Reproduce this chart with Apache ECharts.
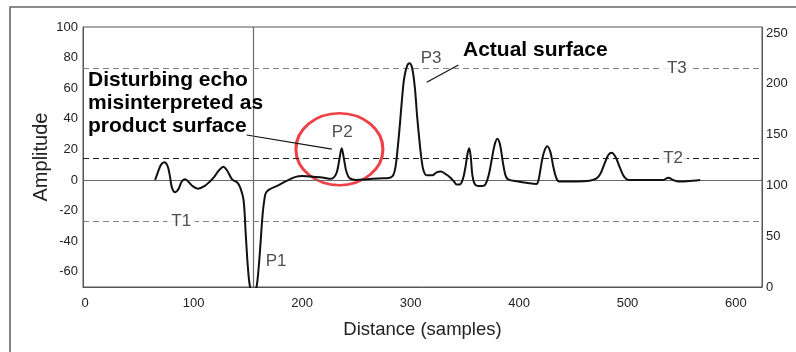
<!DOCTYPE html>
<html>
<head>
<meta charset="utf-8">
<script src="https://cdn.jsdelivr.net/npm/echarts@6/dist/echarts.min.js"></script>
<style>
html,body{margin:0;padding:0;background:#fff;}
#chart{width:796px;height:352px;}
</style>
</head>
<body>
<div id="chart"></div>
<script>
// ---- data ----
var sampleX = [64.5,67,70,73,76,78,80,83,86,89,92,95,99,104,110,115,119,123,127.5,131,134,136,140,143,146,148,150,152,154,156,158,160,161.8,163.2,165,167.4,178,189,194,200,213,220,226,229,232,234.5,236.5,238.5,241,244,250,260,270,281,284,286,288,290,292,294,296.5,299,301.5,304,306,308,310,312,315,320,324,328,332,336,340,342.5,345,348,350.5,352.5,354,355.5,357,359,362,366,369,372,375,377.5,380,382.5,385,387.5,390,399,408,416,418,420,422.5,426,429,431.5,434,437,453,465,471.5,475,479,482.5,485.4,489,493,497,501,533,537.6,542,547,555,567];
var amplitude = [0,5,10,11.5,9,3,-5,-8,-6,-1,0.5,-1,-4,-5.7,-4,-1,2,6,8.7,6,2,0,-1.5,-5,-13,-35,-57,-70,-73,-73,-70,-57,-40,-26,-14,-7.6,-3.5,0.5,2,2.5,2,1.5,0.7,1.5,5,14,20.7,14,5,1,0,0.5,1,1.5,3,8,20,35,52,66,74,76.3,73,60,42,27,14,6,3,3,5,5.5,4,2,-1,-3,-3,0,8,17,20.7,15,3,-2.5,-4,-4,-3,3,14,23,27,23,12,3,0.4,-1,-2,-2.6,0,8,17,22,18,9,2,-1,-1,-0.5,1,4,11,16.5,17.8,15,8,2,0,0,1.5,0,-1,-0.8,0];
var xTickLabels = [0,100,200,300,400,500,600];
var rightTickLabels = [0,50,100,150,200,250];
var thresholdNames = ['T1','T2','T3'];
var thresholdValues = [-26.8,14.3,73];
var thresholdLabelX = [88.5,542,545.5];
var peakNames = ['P1','P2','P3'];
var peakLabelX = [176,237,319];
var peakLabelY = [-53.5,31,79.5];
var markerX = 155;          // vertical reference line
var circleCenter = [234.4,20.1];
var leader1 = [[148.9,29.4],[227.4,20.1]];
var leader2 = [[314.9,63.9],[344.1,75.2]];

var FONT = "'Liberation Sans', Arial, sans-serif";
var chart = echarts.init(document.getElementById('chart'));

var thresholdMarks = thresholdValues.map(function(v, i){
  return {yAxis: v, lineStyle: {color: i === 1 ? '#222' : '#808080', type: [6,4], width: 1.2}};
});

var option = {
  animation: false,
  backgroundColor: '#fff',
  grid: {left: 83, top: 27, right: 34, bottom: 65, show: true, borderColor: '#555', borderWidth: 1, containLabel: false},
  xAxis: {
    type: 'value', min: -2, max: 624,
    name: 'Distance (samples)', nameLocation: 'middle', nameGap: 33,
    nameTextStyle: {fontFamily: FONT, fontSize: 18.5, color: '#222'},
    axisLine: {show: true, onZero: false, lineStyle: {color: '#555'}},
    axisTick: {show: false},
    splitLine: {show: false},
    axisLabel: {customValues: xTickLabels, fontFamily: FONT, fontSize: 13, color: '#222', margin: 10}
  },
  yAxis: [{
    type: 'value', min: -70, max: 100, interval: 10,
    name: 'Amplitude', nameLocation: 'middle', nameGap: 32, nameRotate: 90, nameMoveOverlap: false,
    nameTextStyle: {fontFamily: FONT, fontSize: 20, color: '#222'},
    axisLine: {show: true, onZero: false, lineStyle: {color: '#555'}},
    axisTick: {show: false},
    splitLine: {show: false},
    axisLabel: {fontFamily: FONT, fontSize: 13, color: '#222', margin: 5,
      formatter: function(v){ return (v % 20 === 0) ? String(v) : ''; }}
  },{
    type: 'value', min: 0, max: 256, interval: 50, position: 'right',
    axisLine: {show: true, onZero: false, lineStyle: {color: '#555'}},
    axisTick: {show: false},
    splitLine: {show: false},
    axisLabel: {customValues: rightTickLabels, fontFamily: FONT, fontSize: 13, color: '#222', margin: 4}
  }],
  series: [
    {
      type: 'line', name: 'refs', data: [], silent: true,
      markLine: {
        silent: true, symbol: ['none','none'], label: {show: false},
        data: [
          {yAxis: 0, lineStyle: {color: '#6a6a6a', type: 'solid', width: 1.2}},
          {xAxis: markerX, lineStyle: {color: '#6a6a6a', type: 'solid', width: 1.2}}
        ].concat(thresholdMarks)
      }
    },
    {
      type: 'line', name: 'echo', smooth: 0.35, showSymbol: false, symbol: 'none',
      data: sampleX.map(function(x, i){ return [x, amplitude[i]]; }),
      lineStyle: {color: '#111', width: 2}, z: 5
    },
    {
      type: 'line', name: 'leader1', showSymbol: false, symbol: 'none', data: leader1,
      lineStyle: {color: '#111', width: 1.2}, z: 4
    },
    {
      type: 'line', name: 'leader2', showSymbol: false, symbol: 'none', data: leader2,
      lineStyle: {color: '#111', width: 1.2}, z: 4
    },
    {
      type: 'scatter', name: 'circle', data: [circleCenter], symbol: 'circle', symbolSize: [87,72],
      itemStyle: {color: 'rgba(0,0,0,0)', borderColor: '#ea1118', borderWidth: 2.8}, z: 3, silent: true
    },
    {
      type: 'scatter', name: 'tlabels', symbolSize: 0, silent: true, z: 6,
      data: thresholdNames.map(function(n, i){ return {value: [thresholdLabelX[i], thresholdValues[i]], name: n}; }),
      label: {show: true, position: 'inside', formatter: '{b}', fontFamily: FONT, fontSize: 17, color: '#222',
        backgroundColor: '#fff', padding: [0,4]}
    },
    {
      type: 'scatter', name: 'plabels', symbolSize: 0, silent: true, z: 6,
      data: peakNames.map(function(n, i){ return {value: [peakLabelX[i], peakLabelY[i]], name: n}; }),
      label: {show: true, position: 'inside', formatter: '{b}', fontFamily: FONT, fontSize: 17, color: '#222'}
    }
  ],
  graphic: [
    {type: 'rect', shape: {x: 10, y: 7, width: 900, height: 400}, style: {fill: 'none', stroke: '#666', lineWidth: 1.6}, silent: true},
    {type: 'text', left: 88, top: 69, z: 10, style: {text: 'Disturbing echo\nmisinterpreted as\nproduct surface', font: 'bold 21px ' + FONT, fill: '#000', lineHeight: 23}},
    {type: 'text', left: 463, top: 40, z: 10, style: {text: 'Actual surface', font: 'bold 21px ' + FONT, fill: '#000'}}
  ]
};
chart.setOption(option);
</script>
</body>
</html>
